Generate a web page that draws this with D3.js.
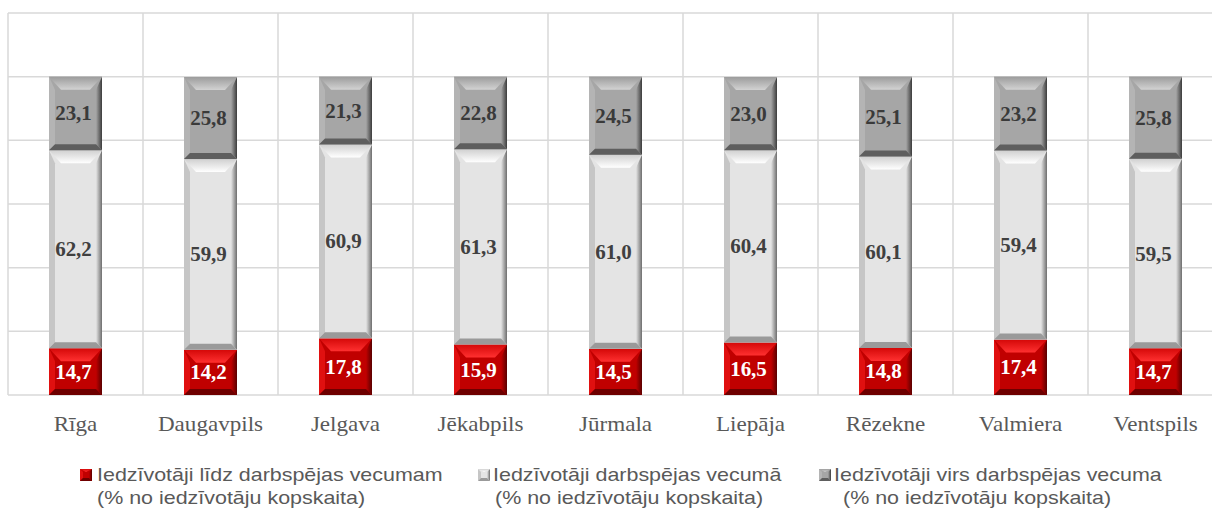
<!DOCTYPE html>
<html>
<head>
<meta charset="utf-8">
<script src="https://cdn.jsdelivr.net/npm/d3@7"></script>
<style>
  html, body { margin: 0; padding: 0; background: #fff; }
  svg { display: block; }
</style>
</head>
<body>
<div id="chart"></div>
<script>
// data
var categories = ["Rīga", "Daugavpils", "Jelgava", "Jēkabpils", "Jūrmala", "Liepāja", "Rēzekne", "Valmiera", "Ventspils"];
var belowAge = [14.7, 14.2, 17.8, 15.9, 14.5, 16.5, 14.8, 17.4, 14.7];
var workingAge = [62.2, 59.9, 60.9, 61.3, 61.0, 60.4, 60.1, 59.4, 59.5];
var aboveAge = [23.1, 25.8, 21.3, 22.8, 24.5, 23.0, 25.1, 23.2, 25.8];
var yTicks = [0, 20, 40, 60, 80, 100, 120];
var seriesNames = [
  ["Iedzīvotāji līdz darbspējas vecumam", "(% no iedzīvotāju kopskaita)"],
  ["Iedzīvotāji darbspējas vecumā", "(% no iedzīvotāju kopskaita)"],
  ["Iedzīvotāji virs darbspējas vecuma", "(% no iedzīvotāju kopskaita)"]
];

var W = 1212, H = 508;
var margin = {left: 8, top: 13, bottom: 113};
var plotW = 1215; // plot runs a bit past the right edge of the picture

// colours for each series: base, top bevel, left, right, bottom, label
var styles = [
  {base: "#c00000", top1: "#d40808", top2: "#ff3030", left: "#e01010", right: "#5a0000", bottom: "#6e0000", text: "#ffffff"},
  {base: "#e4e4e4", top1: "#d0d0d0", top2: "#ffffff", left: "#c6c6c6", right: "#6e6e6e", bottom: "#9a9a9a", text: "#404040"},
  {base: "#a6a6a6", top1: "#9c9c9c", top2: "#d2d2d2", left: "#b4b4b4", right: "#3c3c3c", bottom: "#5e5e5e", text: "#3a3a3a"}
];

var svg = d3.select("#chart").append("svg")
  .attr("width", W).attr("height", H);

var defs = svg.append("defs");
styles.forEach(function (s, i) {
  var g = defs.append("linearGradient").attr("id", "top" + i)
    .attr("x1", 0).attr("y1", 0).attr("x2", 0).attr("y2", 1);
  g.append("stop").attr("offset", "0%").attr("stop-color", s.top1);
  g.append("stop").attr("offset", "100%").attr("stop-color", s.top2);
  var r = defs.append("linearGradient").attr("id", "right" + i)
    .attr("x1", 0).attr("y1", 0).attr("x2", 1).attr("y2", 0);
  r.append("stop").attr("offset", "0%").attr("stop-color", s.base);
  r.append("stop").attr("offset", "100%").attr("stop-color", s.right);
});

var x = d3.scaleBand()
  .domain(categories)
  .range([margin.left, margin.left + plotW])
  .paddingInner(0).paddingOuter(0);

var y = d3.scaleLinear()
  .domain([0, 120])
  .range([H - margin.bottom, margin.top]);

var clip = defs.append("clipPath").attr("id", "clip");
clip.append("rect").attr("x", 0).attr("y", 0).attr("width", W).attr("height", H);

// grid
var grid = svg.append("g").attr("clip-path", "url(#clip)");
grid.selectAll("line.h").data(yTicks).enter().append("line")
  .attr("x1", margin.left).attr("x2", margin.left + plotW)
  .attr("y1", function (d) { return y(d); }).attr("y2", function (d) { return y(d); })
  .attr("stroke", "#d9d9d9").attr("stroke-width", 1.5);
var bounds = categories.map(function (c) { return x(c); }).concat([margin.left + plotW]);
grid.selectAll("line.v").data(bounds).enter().append("line")
  .attr("x1", function (d) { return d; }).attr("x2", function (d) { return d; })
  .attr("y1", y(120)).attr("y2", y(0))
  .attr("stroke", "#d9d9d9").attr("stroke-width", 1.5);

// bevelled box
function bevel(g, bx, by, bw, bh, i, t, s, b) {
  var st = styles[i];
  t = Math.min(t, bh / 2); b = Math.min(b, bh / 2);
  g.append("rect").attr("x", bx).attr("y", by).attr("width", bw).attr("height", bh).attr("fill", st.base);
  g.append("polygon").attr("points", [[bx, by], [bx + s, by + t], [bx + s, by + bh - b], [bx, by + bh]].join(" "))
    .attr("fill", st.left);
  g.append("polygon").attr("points", [[bx + bw, by], [bx + bw, by + bh], [bx + bw - s, by + bh - b], [bx + bw - s, by + t]].join(" "))
    .attr("fill", "url(#right" + i + ")");
  g.append("polygon").attr("points", [[bx, by + bh], [bx + bw, by + bh], [bx + bw - s, by + bh - b], [bx + s, by + bh - b]].join(" "))
    .attr("fill", st.bottom);
  g.append("polygon").attr("points", [[bx, by], [bx + bw, by], [bx + bw - s * 2, by + t], [bx + s * 2, by + t]].join(" "))
    .attr("fill", "url(#top" + i + ")");
}

var fmt = function (v) { return d3.format(".1f")(v).replace(".", ","); };
var series = [belowAge, workingAge, aboveAge];
var barW = 53;

var bars = svg.append("g");
categories.forEach(function (c, ci) {
  var cx = x(c) + x.bandwidth() / 2;
  var base = 0;
  series.forEach(function (arr, si) {
    var v = arr[ci];
    var y0 = y(base), y1 = y(base + v);
    var g = bars.append("g");
    bevel(g, cx - barW / 2, y1, barW, y0 - y1, si, 13, 6, 6);
    g.append("text")
      .attr("transform", "translate(" + (cx - 2) + "," + ((y0 + y1) / 2 + 7) + ") scale(1.05,1)")
      .attr("text-anchor", "middle")
      .attr("font-family", "'Liberation Serif', 'Times New Roman', serif")
      .attr("font-weight", "bold")
      .attr("font-size", 20)
      .attr("fill", styles[si].text)
      .text(fmt(v));
    base += v;
  });
});

// category labels (the picture is a little stretched sideways)
svg.append("g").selectAll("text").data(categories).enter().append("text")
  .attr("transform", function (d) { return "translate(" + (x(d) + x.bandwidth() / 2) + ",431) scale(1.1,1)"; })
  .attr("text-anchor", "middle")
  .attr("font-family", "'Liberation Serif', 'Times New Roman', serif")
  .attr("font-size", 21)
  .attr("fill", "#595959")
  .text(function (d) { return d; });

// legend
var legendX = [80, 478, 819];
var legendText = [97, 493, 834];
var legendText2 = [97, 495, 843];
var legend = svg.append("g");
seriesNames.forEach(function (lines, i) {
  var g = legend.append("g");
  bevel(g, legendX[i], 469, 12, 12, i, 3, 3, 3);
  g.append("text")
    .attr("transform", "translate(" + legendText[i] + ",481) scale(1.16,1)")
    .attr("font-family", "'Liberation Sans', Arial, sans-serif")
    .attr("font-size", 18.5)
    .attr("fill", "#595959")
    .text(lines[0]);
  g.append("text")
    .attr("transform", "translate(" + legendText2[i] + ",504) scale(1.16,1)")
    .attr("font-family", "'Liberation Sans', Arial, sans-serif")
    .attr("font-size", 18.5)
    .attr("fill", "#595959")
    .text(lines[1]);
});
</script>
</body>
</html>
